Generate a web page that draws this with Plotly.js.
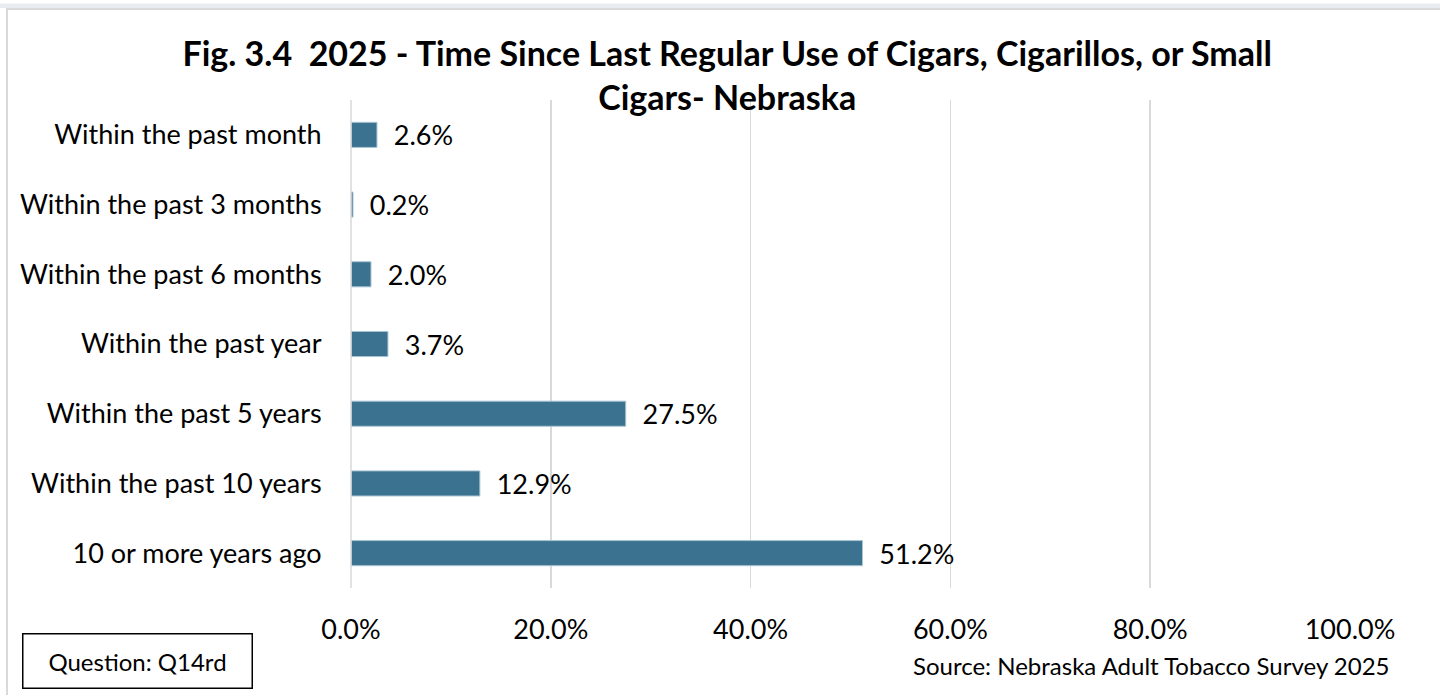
<!DOCTYPE html>
<html>
<head>
<meta charset="utf-8">
<script src="https://cdn.plot.ly/plotly-3.0.1.min.js"></script>
<style>
html,body{margin:0;padding:0;background:#fff;}
#chart{width:1440px;height:695px;}
</style>
</head>
<body>
<div id="chart"></div>
<script>
const categories = [
  "Within the past month",
  "Within the past 3 months",
  "Within the past 6 months",
  "Within the past year",
  "Within the past 5 years",
  "Within the past 10 years",
  "10 or more years ago"
];
const values = [2.6, 0.2, 2.0, 3.7, 27.5, 12.9, 51.2];
const tickVals = [0, 20, 40, 60, 80, 100];
const tickLabels = ["0.0%", "20.0%", "40.0%", "60.0%", "80.0%", "100.0%"];
const titleText = "<b>Fig. 3.4  2025 - Time Since Last Regular Use of Cigars, Cigarillos, or Small<br>Cigars- Nebraska</b>";
const questionText = "Question: Q14rd";
const sourceText = "Source: Nebraska Adult Tobacco Survey 2025";

const FONT = "Lato, 'Open Sans', sans-serif";

const trace = {
  type: "bar",
  orientation: "h",
  y: categories,
  x: values,
  text: values.map(v => "\u00a0\u00a0" + v.toFixed(1) + "%"),
  textposition: "outside",
  constraintext: "none",
  cliponaxis: false,
  textfont: {family: FONT, size: 27, color: "#000"},
  marker: {color: "#3a7290", line: {color: "#a9c4d3", width: 1}},
  width: 0.36,
  hoverinfo: "skip"
};

const W = 999, H = 488;
const px = v => (v - 351) / W;
const py = v => (588 - v) / H;

const layout = {
  width: 1440,
  height: 695,
  paper_bgcolor: "#fff",
  plot_bgcolor: "#fff",
  margin: {l: 351, r: 90, t: 100, b: 107},
  showlegend: false,
  font: {family: FONT, size: 27, color: "#000"},
  title: {
    text: titleText,
    font: {family: FONT, size: 34, color: "#000"},
    x: 0.505, xanchor: "center",
    y: 0.905, yanchor: "top"
  },
  xaxis: {
    range: [0, 100],
    tickvals: tickVals,
    ticktext: tickLabels,
    showgrid: true,
    gridcolor: "#d9d9d9",
    gridwidth: 1.5,
    zeroline: false,
    showline: false,
    ticks: "outside",
    ticklen: 18,
    tickcolor: "rgba(0,0,0,0)",
    tickfont: {family: FONT, size: 27, color: "#000"},
    automargin: false,
    fixedrange: true
  },
  yaxis: {
    autorange: "reversed",
    showgrid: false,
    zeroline: false,
    showline: false,
    ticks: "outside",
    ticklen: 23,
    tickcolor: "rgba(0,0,0,0)",
    tickfont: {family: FONT, size: 27, color: "#000"},
    automargin: false,
    fixedrange: true
  },
  shapes: [
    {type: "rect", xref: "paper", yref: "paper", layer: "below",
     x0: px(-10), x1: px(1450), y0: py(695), y1: py(3.5),
     line: {width: 0}, fillcolor: "#e9edf1"},
    {type: "rect", xref: "paper", yref: "paper", layer: "below",
     x0: px(0), x1: px(1450), y0: py(700), y1: py(8),
     line: {width: 0}, fillcolor: "#ffffff"},
    {type: "rect", xref: "paper", yref: "paper", layer: "below",
     x0: px(7), x1: px(1460), y0: py(710), y1: py(9),
     line: {width: 2, color: "#d9d9d9"}, fillcolor: "#ffffff"},
    {type: "line", xref: "paper", yref: "paper",
     x0: 0, x1: 0, y0: 0, y1: 1, line: {color: "#d9d9d9", width: 1.5}}
  ],
  annotations: [
    {text: questionText, xref: "paper", yref: "paper",
     x: px(22), y: py(633), xanchor: "left", yanchor: "top",
     showarrow: false, font: {family: FONT, size: 24, color: "#000"},
     bordercolor: "#000", borderwidth: 1.5, borderpad: 11,
     width: 206, height: 31, align: "center"},
    {text: sourceText, xref: "paper", yref: "paper",
     x: px(1392), y: py(665), xanchor: "right", yanchor: "middle",
     showarrow: false, font: {family: FONT, size: 24, color: "#000"}}
  ]
};

Plotly.newPlot("chart", [trace], layout, {displayModeBar: false, staticPlot: true});
</script>
</body>
</html>
